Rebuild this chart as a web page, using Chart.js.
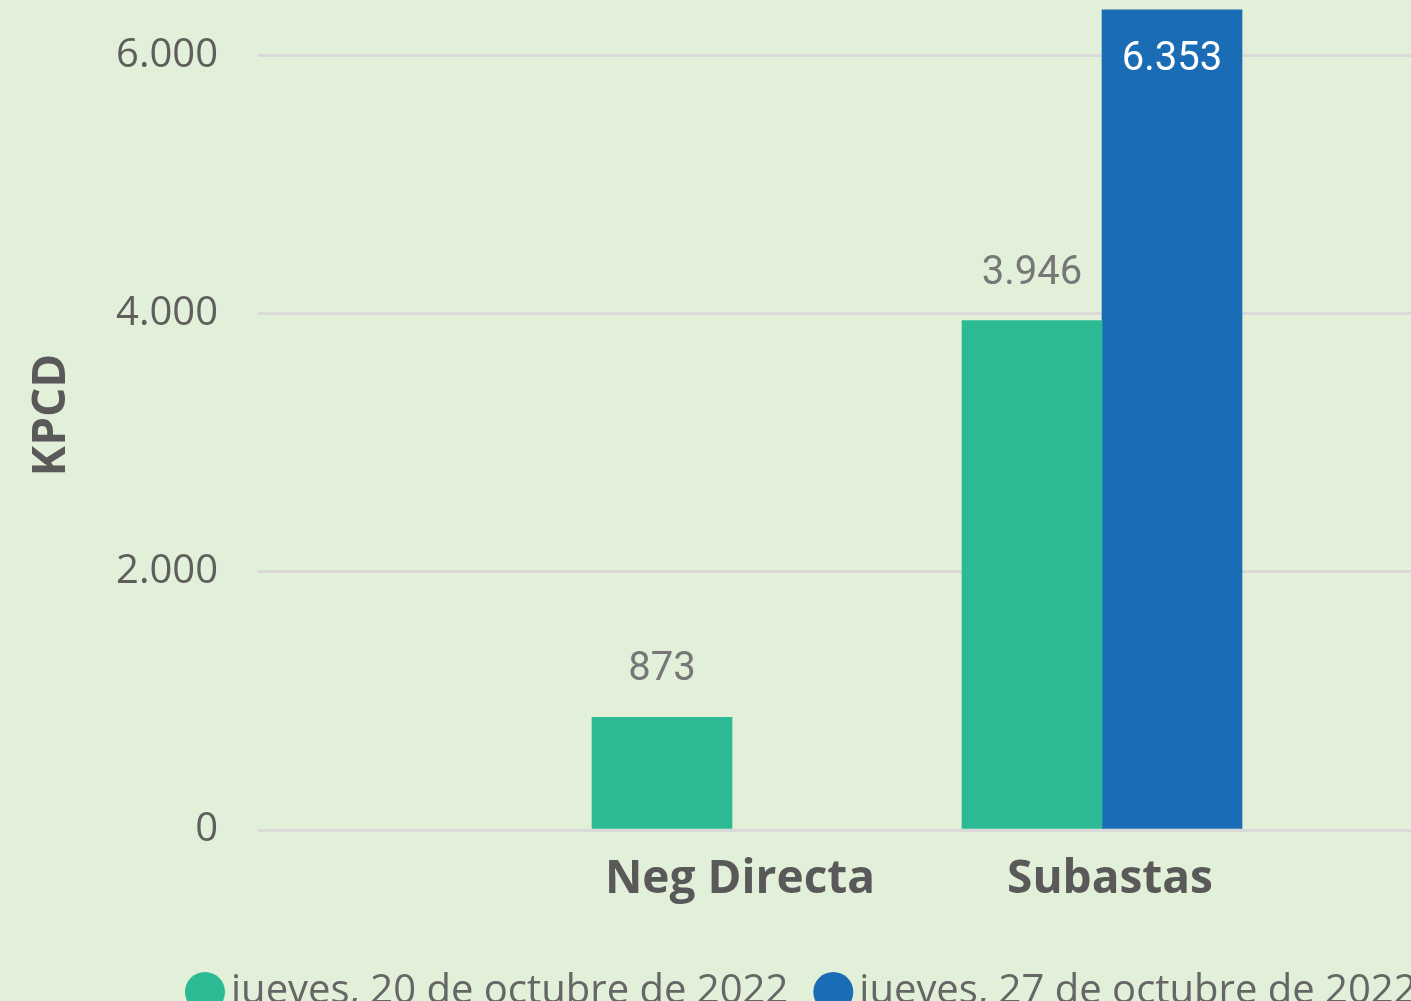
<!DOCTYPE html>
<html>
<head>
<meta charset="utf-8">
<style>
  html, body { margin: 0; padding: 0; background: #e2efd9; overflow: hidden; }
  #wrap { position: relative; width: 1411px; height: 1001px; }
</style>
</head>
<body>
<div id="wrap"><canvas id="kpcdChart"></canvas></div>
<script src="https://cdn.jsdelivr.net/npm/chart.js"></script>
<script>
const categories = ['Neg Directa', 'Subastas'];
const seriesNames = ['jueves, 20 de octubre de 2022', 'jueves, 27 de octubre de 2022'];
const oct20 = [873, 3946];
const oct27 = [null, 6353];
const yTicks = [0, 2000, 4000, 6000];
const seriesColors = ['#2cba94', '#1a6cb4'];

// thousands with a dot, like the original report
function fmt(v) { return String(v).replace(/\B(?=(\d{3})+(?!\d))/g, '.'); }
const toPoints = arr => arr.map((v, i) => ({ x: i + 1, y: v }));

const barLabels = {
  id: 'barLabels',
  afterDatasetsDraw(chart) {
    const ctx = chart.ctx;
    ctx.save();
    ctx.font = '40px Roboto';
    ctx.textAlign = 'center';
    ctx.textBaseline = 'middle';
    chart.data.datasets.forEach((ds, di) => {
      chart.getDatasetMeta(di).data.forEach((bar, i) => {
        const v = ds.data[i].y;
        if (v == null) return;
        const above = bar.y - 47;
        if (above - 20 < chart.chartArea.top) {
          ctx.fillStyle = '#ffffff';
          ctx.fillText(fmt(v), bar.x, bar.y + 50);
        } else {
          ctx.fillStyle = '#777777';
          ctx.fillText(fmt(v), bar.x, above);
        }
      });
    });
    ctx.restore();
  }
};

const dotLegend = {
  id: 'dotLegend',
  afterDraw(chart) {
    const ctx = chart.ctx;
    ctx.save();
    ctx.font = '40px "Open Sans"';
    ctx.textBaseline = 'middle';
    let x = 185;
    const y = 992;
    chart.data.datasets.forEach(ds => {
      ctx.fillStyle = ds.backgroundColor;
      ctx.beginPath();
      ctx.arc(x + 20, y, 20, 0, Math.PI * 2);
      ctx.fill();
      ctx.fillStyle = '#666666';
      ctx.fillText(ds.label, x + 46, y);
      x += 46 + ctx.measureText(ds.label).width + 25;
    });
    ctx.restore();
  }
};

new Chart(document.getElementById('kpcdChart'), {
  type: 'bar',
  data: {
    datasets: [
      { label: seriesNames[0], data: toPoints(oct20), backgroundColor: seriesColors[0] },
      { label: seriesNames[1], data: toPoints(oct27), backgroundColor: seriesColors[1] }
    ]
  },
  options: {
    responsive: true,
    maintainAspectRatio: false,
    animation: false,
    layout: { padding: 0 },
    datasets: { bar: { barThickness: 140 } },
    plugins: { legend: { display: false }, tooltip: { enabled: false } },
    scales: {
      x: {
        type: 'linear',
        offset: false,
        min: -0.2811,
        max: 2.8351,
        grid: { display: false },
        border: { display: false },
        afterBuildTicks: s => { s.ticks = categories.map((c, i) => ({ value: i + 1 })); },
        afterFit: s => { s.height = 171; s.paddingLeft = 0; s.paddingRight = 0; },
        ticks: {
          callback: v => categories[v - 1],
          font: { family: 'Open Sans', size: 46, weight: 'bold' },
          color: '#595959',
          padding: 14,
          labelOffset: 8,
          maxRotation: 0,
          autoSkip: false
        }
      },
      y: {
        min: 0,
        max: 6430,
        afterBuildTicks: s => { s.ticks = yTicks.map(v => ({ value: v })); },
        afterFit: s => { s.width = 258; s.paddingTop = 0; s.paddingBottom = 0; },
        grid: { color: '#d9d9d9', lineWidth: 3, drawTicks: false },
        border: { display: false },
        ticks: {
          callback: v => fmt(v),
          font: { family: 'Open Sans', size: 40 },
          color: '#605e5c',
          padding: 40
        },
        title: {
          display: true,
          text: 'KPCD',
          font: { family: 'Open Sans', size: 46, weight: 'bold' },
          color: '#595959',
          padding: { top: 24, bottom: 0 }
        }
      }
    }
  },
  plugins: [barLabels, dotLegend]
});
</script>
</body>
</html>
